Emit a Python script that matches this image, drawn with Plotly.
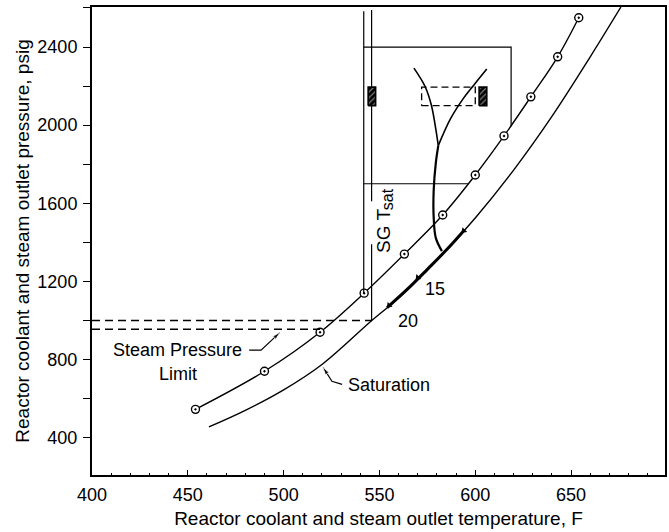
import plotly.graph_objects as go

# ---------------- data ----------------
coolant_T = [454, 490, 519, 542, 563, 583, 600, 615, 629, 643, 654]
coolant_P = [545, 740, 940, 1140, 1340, 1540, 1745, 1945, 2145, 2350, 2550]

sat_T = [461, 480, 500, 520, 546, 560, 583, 600, 620, 640, 660, 676]
sat_P = [455, 540, 645, 775, 1000, 1115, 1340, 1525, 1770, 2045, 2350, 2605]

band_T = [554, 565, 575, 585, 594]
band_P = [1066, 1164, 1262, 1362, 1460]
band_mark_T = [555, 570, 594]
band_mark_P = [1077, 1220, 1460]

stem_T = [582.6, 579.4, 578.3, 578.3, 579.4, 580.7]
stem_P = [1355, 1423, 1527, 1667, 1806, 1895]
left_T = [580.7, 579.4, 577.1, 573.8, 568.0]
left_P = [1895, 1980, 2102, 2198, 2292]
right_T = [580.7, 587.1, 593.8, 599.4, 606.0]
right_P = [1895, 2033, 2137, 2207, 2287]

limit_T = [400, 546]          # steam pressure limit (upper dashed)
limit_P = [1000, 1000]
limit2_T = [400, 519]         # lower dashed
limit2_P = [955, 955]

vline1_T = [541.8, 541.8]
vline1_P = [2583, 1140]
vline2a_T = [545.9, 545.9]
vline2a_P = [2590, 1610]
vline2b_T = [545.9, 545.9]
vline2b_P = [1390, 1000]

box_top_T = [541.8, 618.7, 618.7]
box_top_P = [2400, 2400, 1995]
box_mid_T = [541.8, 596.5]
box_mid_P = [1700, 1700]

dash_rect_T = [572, 600, 600, 572, 572]
dash_rect_P = [2100, 2100, 2195, 2195, 2100]
hatch1_T = [544.1, 548, 548, 544.1, 544.1]
hatch1_P = [2100, 2100, 2195, 2195, 2100]
hatch2_T = [602, 606, 606, 602, 602]
hatch2_P = [2100, 2100, 2195, 2195, 2100]

spl_leader_T = [482, 488.2, 498.0]
spl_leader_P = [848, 848, 938]
sat_leader_T = [530.5, 525.2, 520.6]
sat_leader_P = [673, 689, 760]

x_ticks = [400, 450, 500, 550, 600, 650]
y_ticks = [400, 800, 1200, 1600, 2000, 2400]

FONT = "Liberation Sans"
K = "black"

fig = go.Figure()

def line(x, y, w=1.4, dash=None, shape="linear"):
    fig.add_trace(go.Scatter(x=x, y=y, mode="lines",
                             line=dict(color=K, width=w, dash=dash, shape=shape),
                             hoverinfo="skip", showlegend=False))

# curves
line(coolant_T, coolant_P, 1.4, shape="spline")
fig.add_trace(go.Scatter(x=coolant_T, y=coolant_P, mode="markers",
                         marker=dict(symbol="circle-dot", size=8, color="white",
                                     line=dict(color=K, width=1.4)),
                         hoverinfo="skip", showlegend=False))
line(sat_T, sat_P, 1.4, shape="spline")
line(band_T, band_P, 3, shape="spline")
fig.add_trace(go.Scatter(x=band_mark_T, y=band_mark_P, mode="markers",
                         marker=dict(symbol="triangle-up", size=6, color=K, angle=225),
                         hoverinfo="skip", showlegend=False))
line(stem_T, stem_P, 2.2, shape="spline")
line(left_T, left_P, 1.6, shape="spline")
line(right_T, right_P, 1.6, shape="spline")

# limit lines
line(limit_T, limit_P, 1.4, dash="8px,5px")
line(limit2_T, limit2_P, 1.4, dash="8px,5px")
line(vline1_T, vline1_P, 1.2)
line(vline2a_T, vline2a_P, 1.2)
line(vline2b_T, vline2b_P, 1.2)
line(box_top_T, box_top_P, 1.2)
line(box_mid_T, box_mid_P, 1.2)
line(dash_rect_T, dash_rect_P, 1.3, dash="7px,4px")

for hx, hy in ((hatch1_T, hatch1_P), (hatch2_T, hatch2_P)):
    fig.add_trace(go.Scatter(x=hx, y=hy, mode="lines", fill="toself",
                             fillcolor=K,
                             fillpattern=dict(shape="/", fgcolor="white", bgcolor=K,
                                              size=4, solidity=0.3),
                             line=dict(color=K, width=1.6),
                             hoverinfo="skip", showlegend=False))

# leader lines with arrowheads
for lx, ly in ((spl_leader_T, spl_leader_P), (sat_leader_T, sat_leader_P)):
    fig.add_trace(go.Scatter(x=lx, y=ly, mode="lines+markers",
                             line=dict(color=K, width=1.2),
                             marker=dict(symbol="arrow", size=[0, 0, 8], color=K,
                                         angleref="previous"),
                             hoverinfo="skip", showlegend=False))

ANN_SIZE = 18
ann = [
    dict(x=444.7, y=848, text="Steam Pressure"),
    dict(x=445.0, y=725, text="Limit"),
    dict(x=532.7, y=670, text="Saturation", xanchor="left"),
    dict(x=579.2, y=1160, text="15"),
    dict(x=565.0, y=995, text="20"),
]
for a in ann:
    fig.add_annotation(xref="x", yref="y", showarrow=False,
                       font=dict(size=ANN_SIZE), **a)
# "SG T_sat" rotated label (subscript drawn as its own smaller text)
fig.add_annotation(x=552.0, y=1460, xref="x", yref="y", showarrow=False,
                   text="SG T", textangle=-90, font=dict(size=19))
fig.add_annotation(x=554.0, y=1622, xref="x", yref="y", showarrow=False,
                   text="sat", textangle=-90, font=dict(size=16))

fig.update_layout(
    width=669, height=532,
    margin=dict(l=92, r=2, t=7, b=57),
    paper_bgcolor="white", plot_bgcolor="white",
    font=dict(family=FONT, size=16, color=K),
    showlegend=False,
    xaxis=dict(range=[400, 699], tickvals=x_ticks, ticktext=[str(v) for v in x_ticks],
               title=dict(text="Reactor coolant and steam outlet temperature, F",
                          font=dict(size=19), standoff=8),
               showgrid=False, zeroline=False, showline=True, linewidth=2,
               linecolor=K, mirror=True, ticks="inside", ticklen=5, tickwidth=1.3,
               tickcolor=K, tickfont=dict(size=18), ticklabelstandoff=2,
               minor=dict(dtick=10, tick0=400, ticks="inside", ticklen=2, tickcolor=K)),
    yaxis=dict(range=[209, 2605], tickvals=y_ticks, ticktext=[str(v) for v in y_ticks],
               title=dict(text="Reactor coolant and steam outlet pressure, psig",
                          font=dict(size=19), standoff=3),
               showgrid=False, zeroline=False, showline=True, linewidth=2,
               linecolor=K, mirror=True, ticks="outside", ticklen=7, tickwidth=1.3,
               tickcolor=K, tickfont=dict(size=18), ticklabelstandoff=2,
               minor=dict(dtick=200, tick0=0, ticks="outside", ticklen=7, tickcolor=K)),
)

fig.write_html("out.html")
